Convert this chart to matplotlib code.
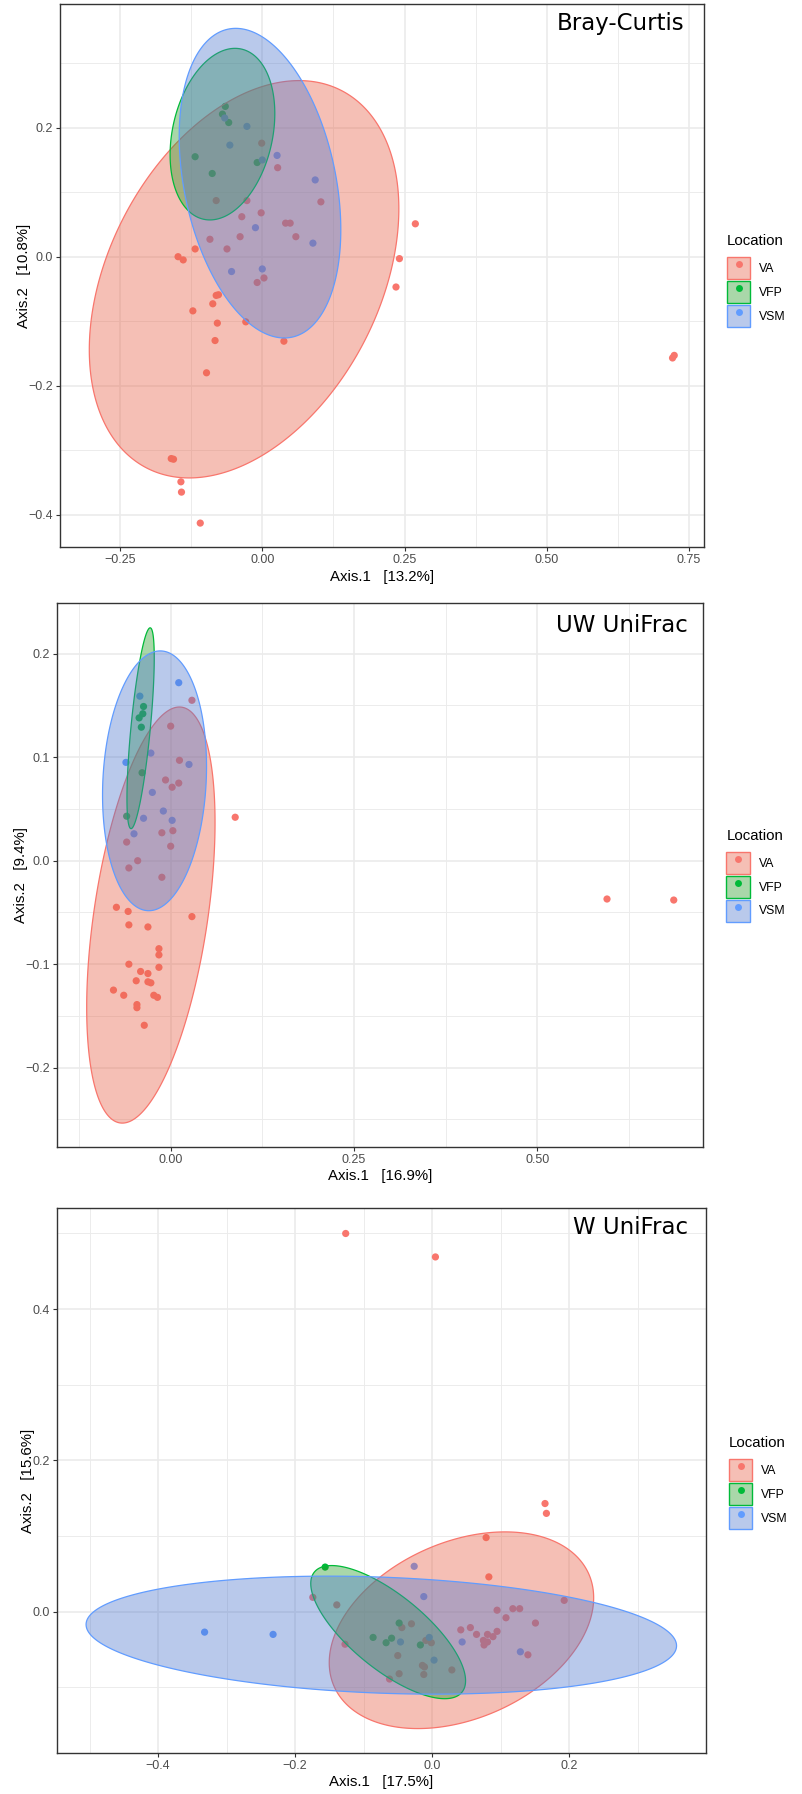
import numpy as np
import matplotlib
matplotlib.use("Agg")
import matplotlib.pyplot as plt
from matplotlib.patches import Patch, Polygon
from matplotlib.lines import Line2D
from matplotlib.legend_handler import HandlerTuple
from matplotlib.ticker import FixedLocator, FuncFormatter
from matplotlib.colors import to_rgba

plt.rcParams['font.family'] = ['Liberation Sans', 'DejaVu Sans']

groups = ["VA", "VFP", "VSM"]
group_colors = ["#F8766D", "#00BA38", "#619CFF"]
fill_colors = ["#E86146", "#2A9B2A", "#5078CD"]

# ---------------- Bray-Curtis ----------------
bc_va_x = [-0.001, 0.027, -0.081, -0.027, 0.103, -0.002, -0.036, 0.041, 0.049, -0.092,
           -0.039, 0.059, -0.118, -0.062, -0.148, -0.139, -0.009, 0.003, 0.269, 0.241,
           0.235, -0.081, -0.077, -0.122, -0.087, -0.079, -0.083, -0.029, 0.038, -0.098,
           -0.160, -0.156, -0.143, -0.142, -0.109, 0.721, 0.724]
bc_va_y = [0.176, 0.138, 0.087, 0.087, 0.085, 0.068, 0.062, 0.052, 0.052, 0.027,
           0.031, 0.031, 0.012, 0.012, 0.000, -0.005, -0.040, -0.033, 0.051, -0.003,
           -0.047, -0.060, -0.059, -0.084, -0.073, -0.103, -0.130, -0.101, -0.131, -0.180,
           -0.313, -0.314, -0.349, -0.365, -0.413, -0.157, -0.153]
bc_vfp_x = [-0.065, -0.070, -0.059, -0.118, -0.088, -0.009]
bc_vfp_y = [0.233, 0.221, 0.208, 0.155, 0.129, 0.146]
bc_vsm_x = [-0.066, -0.027, -0.057, 0.000, 0.026, 0.093, -0.012, 0.089, -0.054, 0.000]
bc_vsm_y = [0.215, 0.202, 0.173, 0.150, 0.157, 0.119, 0.045, 0.021, -0.023, -0.019]
# ellipse parameters (VA, VFP, VSM): centre, half-extents, correlation
bc_ell_cx = [-0.032, -0.070, -0.004]
bc_ell_cy = [-0.035, 0.190, 0.114]
bc_ell_rx = [0.272, 0.092, 0.142]
bc_ell_ry = [0.308, 0.133, 0.240]
bc_ell_rho = [0.355, 0.24, -0.30]

# ---------------- UW UniFrac ----------------
uw_va_x = [0.029, 0.000, 0.012, -0.007, 0.002, 0.011, 0.088, -0.012, 0.003, -0.060,
           0.000, -0.045, -0.057, -0.012, -0.074, -0.058, -0.057, -0.031, 0.029, -0.016,
           -0.016, -0.016, -0.057, -0.041, -0.031, -0.047, -0.031, -0.027, -0.078, -0.064,
           -0.023, -0.018, -0.046, -0.046, -0.036, 0.595, 0.686]
uw_va_y = [0.155, 0.130, 0.097, 0.078, 0.071, 0.075, 0.042, 0.027, 0.029, 0.018,
           0.014, 0.000, -0.007, -0.016, -0.045, -0.049, -0.062, -0.064, -0.054, -0.085,
           -0.091, -0.103, -0.100, -0.107, -0.109, -0.116, -0.117, -0.118, -0.125, -0.130,
           -0.130, -0.132, -0.139, -0.142, -0.159, -0.037, -0.038]
uw_vfp_x = [-0.037, -0.038, -0.043, -0.040, -0.039, -0.060]
uw_vfp_y = [0.149, 0.142, 0.138, 0.129, 0.085, 0.043]
uw_vsm_x = [0.011, -0.042, -0.061, -0.027, 0.025, -0.025, -0.010, 0.002, -0.037, -0.050]
uw_vsm_y = [0.172, 0.159, 0.095, 0.104, 0.093, 0.066, 0.048, 0.039, 0.041, 0.026]
uw_ell_cx = [-0.027, -0.041, -0.022]
uw_ell_cy = [-0.0525, 0.128, 0.0772]
uw_ell_rx = [0.0875, 0.0186, 0.0709]
uw_ell_ry = [0.201, 0.097, 0.1255]
uw_ell_rho = [0.445, 0.70, 0.11]

# ---------------- W UniFrac ----------------
w_va_x = [-0.126, 0.005, 0.165, 0.167, 0.079, 0.083, 0.193, 0.095, 0.118, 0.128,
          0.108, 0.151, 0.056, 0.042, 0.065, 0.095, 0.081, 0.089, 0.075, 0.076,
          0.081, 0.140, 0.029, -0.174, -0.139, -0.127, -0.044, -0.030, -0.050, -0.048,
          -0.062, -0.014, -0.011, -0.012, -0.009, -0.001]
w_va_y = [0.500, 0.469, 0.143, 0.130, 0.098, 0.046, 0.015, 0.002, 0.004, 0.004,
          -0.008, -0.015, -0.021, -0.024, -0.030, -0.026, -0.030, -0.033, -0.038, -0.044,
          -0.040, -0.057, -0.077, 0.019, 0.009, -0.043, -0.021, -0.016, -0.058, -0.082,
          -0.089, -0.071, -0.073, -0.083, -0.038, -0.041]
w_vfp_x = [-0.156, -0.048, -0.086, -0.059, -0.067, -0.017]
w_vfp_y = [0.059, -0.015, -0.034, -0.035, -0.041, -0.044]
w_vsm_x = [-0.332, -0.232, -0.026, -0.012, -0.046, -0.004, 0.003, 0.044, 0.129]
w_vsm_y = [-0.027, -0.030, 0.060, 0.020, -0.040, -0.034, -0.064, -0.040, -0.053]
w_ell_cx = [0.043, -0.064, -0.074]
w_ell_cy = [-0.0245, -0.027, -0.031]
w_ell_rx = [0.193, 0.113, 0.431]
w_ell_ry = [0.130, 0.088, 0.078]
w_ell_rho = [0.33, -0.73, -0.18]

titles = ["Bray-Curtis", "UW UniFrac", "W UniFrac"]
xlabels = ["Axis.1   [13.2%]", "Axis.1   [16.9%]", "Axis.1   [17.5%]"]
ylabels = ["Axis.2   [10.8%]", "Axis.2   [9.4%]", "Axis.2   [15.6%]"]

bc_xticks = [-0.25, 0.0, 0.25, 0.50, 0.75]
bc_yticks = [-0.4, -0.2, 0.0, 0.2]
uw_xticks = [0.0, 0.25, 0.50]
uw_yticks = [-0.2, -0.1, 0.0, 0.1, 0.2]
w_xticks = [-0.4, -0.2, 0.0, 0.2]
w_yticks = [0.0, 0.2, 0.4]

# ---------------- layout ----------------
W, H = 802, 1794
fig = plt.figure(figsize=(W / 100, H / 100), dpi=100)
fig.patch.set_facecolor("white")

panels = [
    dict(rect=(60, 4.3, 704, 547.4), xlim=(-0.3555, 0.7763), ylim=(-0.4507, 0.3913),
         pts=[(bc_va_x, bc_va_y), (bc_vfp_x, bc_vfp_y), (bc_vsm_x, bc_vsm_y)],
         ell=(bc_ell_cx, bc_ell_cy, bc_ell_rx, bc_ell_ry, bc_ell_rho),
         xt=bc_xticks, yt=bc_yticks, xf="%.2f", yf="%.1f", tpos=(0.969, 0.965),
         legy=0.491),
    dict(rect=(57, 603.3, 703.3, 1146.9), xlim=(-0.155, 0.7263), ylim=(-0.2765, 0.2487),
         pts=[(uw_va_x, uw_va_y), (uw_vfp_x, uw_vfp_y), (uw_vsm_x, uw_vsm_y)],
         ell=(uw_ell_cx, uw_ell_cy, uw_ell_rx, uw_ell_ry, uw_ell_rho),
         xt=uw_xticks, yt=uw_yticks, xf="%.2f", yf="%.1f", tpos=(0.976, 0.9595),
         legy=0.499),
    dict(rect=(56.7, 1208.3, 706, 1752.7), xlim=(-0.5479, 0.40), ylim=(-0.1864, 0.5333),
         pts=[(w_va_x, w_va_y), (w_vfp_x, w_vfp_y), (w_vsm_x, w_vsm_y)],
         ell=(w_ell_cx, w_ell_cy, w_ell_rx, w_ell_ry, w_ell_rho),
         xt=w_xticks, yt=w_yticks, xf="%.1f", yf="%.1f", tpos=(0.972, 0.965),
         legy=0.496),
]


def minor_between(ticks, lim):
    step = ticks[1] - ticks[0]
    start = ticks[0] - step * 10
    vals = [start + step * (i + 0.5) for i in range(40)]
    return [v for v in vals if lim[0] <= v <= lim[1]]


def fmt(f):
    return FuncFormatter(lambda v, p: (f % v).replace("-", "\u2212"))


t = np.linspace(0, 2 * np.pi, 400)

for i, P in enumerate(panels):
    l, tp, r, b = P["rect"]
    ax = fig.add_axes([l / W, 1 - b / H, (r - l) / W, (b - tp) / H])
    ax.set_xlim(*P["xlim"])
    ax.set_ylim(*P["ylim"])
    ax.set_facecolor("white")
    ax.set_axisbelow(True)
    ax.xaxis.set_major_locator(FixedLocator(P["xt"]))
    ax.yaxis.set_major_locator(FixedLocator(P["yt"]))
    ax.xaxis.set_minor_locator(FixedLocator(minor_between(P["xt"], P["xlim"])))
    ax.yaxis.set_minor_locator(FixedLocator(minor_between(P["yt"], P["ylim"])))
    ax.xaxis.set_major_formatter(fmt(P["xf"]))
    ax.yaxis.set_major_formatter(fmt(P["yf"]))
    ax.grid(which="major", color="#EBEBEB", lw=1.2, zorder=0)
    ax.grid(which="minor", color="#EBEBEB", lw=0.65, zorder=0)
    ax.tick_params(which="minor", length=0)
    ax.tick_params(which="major", length=2.7, width=0.8, color="#333333",
                   labelcolor="#4D4D4D", labelsize=9, pad=2.2)
    for s in ax.spines.values():
        s.set_color("#333333")
        s.set_linewidth(1.0)

    # points first
    for (xs, ys), c in zip(P["pts"], group_colors):
        ax.scatter(xs, ys, s=27, color=c, edgecolors="none", zorder=2)

    # ellipses on top
    cxs, cys, rxs, rys, rhos = P["ell"]
    for k, c in enumerate(group_colors):
        ex = cxs[k] + rxs[k] * np.cos(t)
        ey = cys[k] + rys[k] * (rhos[k] * np.cos(t) + np.sqrt(1 - rhos[k] ** 2) * np.sin(t))
        poly = Polygon(np.column_stack([ex, ey]), closed=True,
                       facecolor=to_rgba(fill_colors[k], 0.4), edgecolor=c, lw=0.9,
                       zorder=3)
        ax.add_patch(poly)

    ax.set_xlabel(xlabels[i], fontsize=10.8, color="black", labelpad=2.6)
    ax.set_ylabel(ylabels[i], fontsize=10.8, color="black", labelpad=-1.5)

    ax.text(P["tpos"][0], P["tpos"][1], titles[i], transform=ax.transAxes,
            ha="right", va="center", fontsize=16.5, color="black", zorder=5,
            family="DejaVu Sans")

    handles = [(Patch(facecolor=to_rgba(fc, 0.4), edgecolor=c, lw=1.0),
                Line2D([], [], marker="o", ls="none", markersize=5,
                       markerfacecolor=c, markeredgecolor="none"))
               for c, fc in zip(group_colors, fill_colors)]
    leg = ax.legend(handles, groups, handler_map={tuple: HandlerTuple(ndivide=1)},
                    title="Location", loc="center left",
                    bbox_to_anchor=(1 + 23 / (r - l), P["legy"]), frameon=False,
                    fontsize=8.8, title_fontsize=10.8, handlelength=1.9,
                    handleheight=2.45, labelspacing=0.12, handletextpad=0.75,
                    borderpad=0, borderaxespad=0, alignment="left")
    leg._legend_box.sep = 6

fig.savefig("out.png", dpi=100, facecolor="white")
